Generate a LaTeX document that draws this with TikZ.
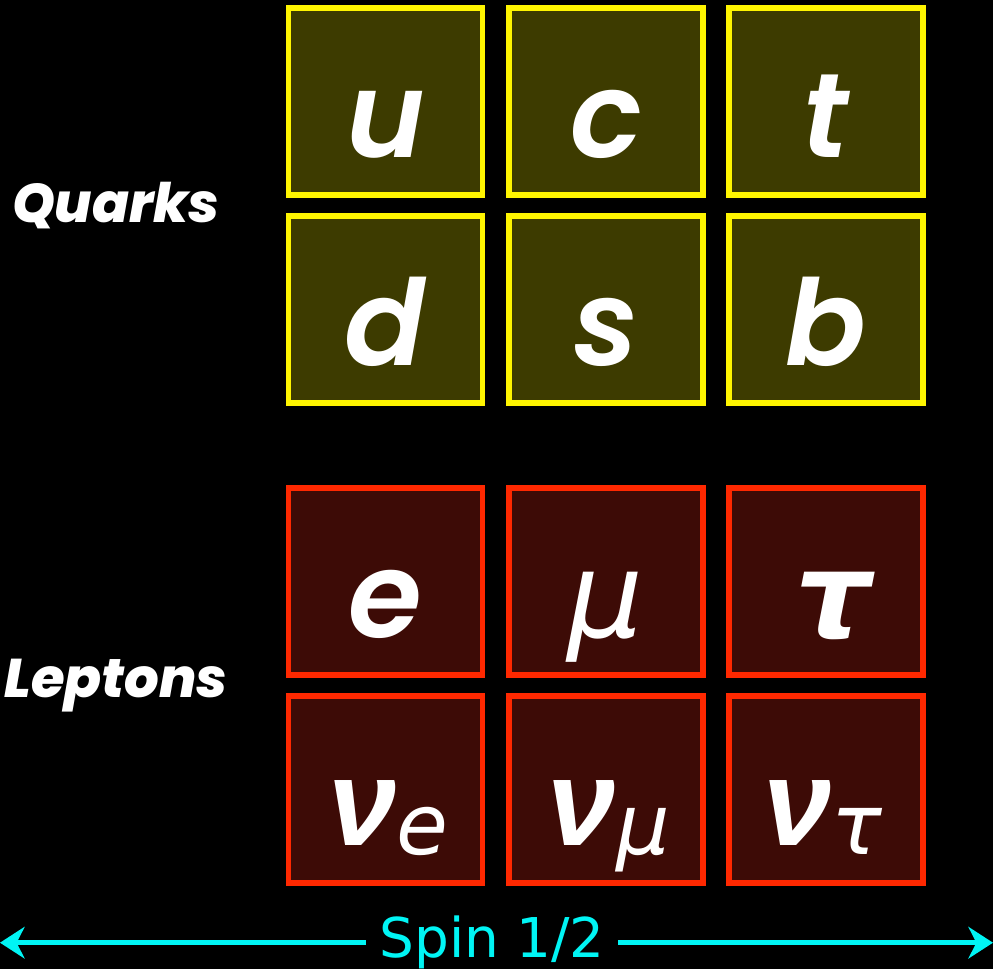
\documentclass[tikz,border=0pt]{standalone}
\usepackage{fontspec}
\usetikzlibrary{arrows.meta,positioning}
\newfontfamily\popheavy{Poppins ExtraBold Italic}
\newfontfamily\popsemi{Poppins SemiBold Italic}
\newfontfamily\greekfont{DejaVu Sans}
\newfontfamily\nufont{Liberation Sans}
\definecolor{quarkedge}{RGB}{255,245,0}
\definecolor{quarkfill}{RGB}{61,59,0}
\definecolor{leptonedge}{RGB}{255,40,0}
\definecolor{leptonfill}{RGB}{61,11,6}
\definecolor{spincyan}{RGB}{0,245,245}
\tikzset{
  cell/.style={minimum width=1.94cm,minimum height=1.87cm,line width=1.5pt,inner sep=0pt},
  quark/.style={cell,draw=quarkedge,fill=quarkfill},
  lepton/.style={cell,draw=leptonedge,fill=leptonfill},
  flavour/.style={anchor=base,text=white,inner sep=0pt,font=\popsemi\fontsize{34}{34}\selectfont},
  greek/.style={flavour,font=\greekfont\itshape\fontsize{34}{34}\selectfont},
  family/.style={text=white,inner sep=0pt,font=\popheavy\fontsize{15.5}{15.5}\selectfont},
  arr/.style={-{Stealth[length=7pt,width=9pt]},line width=1.4pt,spincyan}
}
\newcommand{\nusub}[1]{{\nufont\bfseries\itshape\fontsize{35}{35}\selectfont ν}{\greekfont\mdseries\itshape\fontsize{24}{24}\selectfont\raisebox{-2.5pt}{#1}}}

\begin{document}
\begin{tikzpicture}

  % ── background ─────────────────────────────────────────────────────────────
  \fill[black] (0,0) rectangle (9.93,9.69);
  \useasboundingbox (0,0) rectangle (9.93,9.69);

  % ── Quarks ─────────────────────────────────────────────────────────────────
  \node[quark] (ubox) at (3.855,8.675) {};
  \node[quark] (cbox) at (6.06,8.675) {};
  \node[quark] (tbox) at (8.26,8.675) {};
  \node[quark] (dbox) at (3.855,6.595) {};
  \node[quark] (sbox) at (6.06,6.595) {};
  \node[quark] (bbox) at (8.26,6.595) {};
  \node[flavour] (u) at ([yshift=0.4cm]ubox.south) {u};
  \node[flavour] (c) at ([yshift=0.4cm]cbox.south) {c};
  \node[flavour] (t) at ([yshift=0.4cm]tbox.south) {t};
  \node[flavour] (d) at ([yshift=0.4cm]dbox.south) {d};
  \node[flavour] (s) at ([yshift=0.4cm]sbox.south) {s};
  \node[flavour] (b) at ([yshift=0.4cm]bbox.south) {b};
  \node[family] (quarks) at (1.16,7.635) {Quarks};

  % ── Leptons ────────────────────────────────────────────────────────────────
  \node[lepton] (ebox)    at (3.855,3.875) {};
  \node[lepton] (mubox)   at (6.06,3.875) {};
  \node[lepton] (taubox)  at (8.26,3.875) {};
  \node[lepton] (nuebox)  at (3.855,1.795) {};
  \node[lepton] (numbox)  at (6.06,1.795) {};
  \node[lepton] (nutbox)  at (8.26,1.795) {};
  \node[flavour] (e) at ([yshift=0.4cm]ebox.south) {e};
  \node[greek] (mu) at ([yshift=0.4cm]mubox.south) {μ};
  \node[greek,font=\greekfont\bfseries\itshape\fontsize{34}{34}\selectfont] (tau) at ([xshift=0.08cm,yshift=0.4cm]taubox.south) {τ};
  \node[flavour] (nue) at ([xshift=0.03cm,yshift=0.4cm]nuebox.south) {\nusub{e}};
  \node[flavour] (num) at ([xshift=0.03cm,yshift=0.4cm]numbox.south) {\nusub{μ}};
  \node[flavour] (nut) at ([xshift=-0.03cm,yshift=0.4cm]nutbox.south) {\nusub{τ}};
  \node[family] (leptons) at (1.16,2.835) {Leptons};

  % ── Spin axis ──────────────────────────────────────────────────────────────
  \node[text=spincyan,inner xsep=0.13cm,inner ysep=0pt,font=\greekfont\fontsize{15.6}{15.6}\selectfont]
    (spin) at (4.92,0.263) {Spin 1/2};
  \coordinate (leftend) at (0,0.263);
  \coordinate (rightend) at (9.93,0.263);
  \draw[arr] (spin.west) -- (leftend);
  \draw[arr] (spin.east) -- (rightend);

\end{tikzpicture}
\end{document}
